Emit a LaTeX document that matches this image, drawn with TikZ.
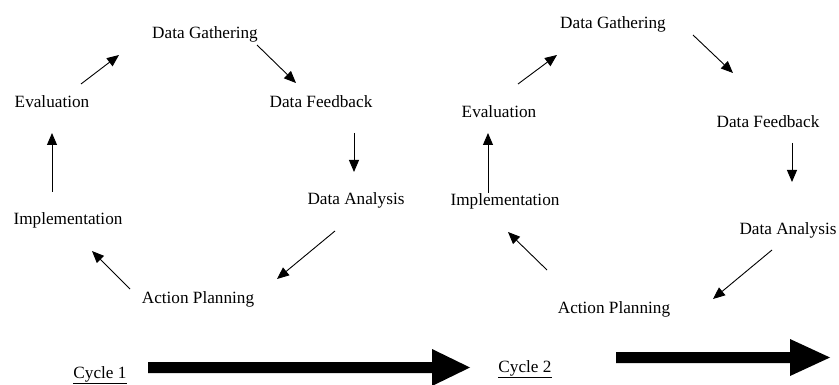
\documentclass[tikz,border=0pt]{standalone}
\usepackage{fontspec}
\setmainfont{Liberation Serif}
\usetikzlibrary{arrows.meta}
\begin{document}
\begin{tikzpicture}[x=1pt,y=-1pt,
  lbl/.style={anchor=base,inner sep=0pt,font=\fontsize{17.2}{20}\selectfont},
  conn/.style={line width=0.9pt,-{Triangle[length=12pt,width=10pt]}},
  bigarrow/.style={fill=black}]
\useasboundingbox (0,0) rectangle (839,385);
% Cycle 1 labels
\node[lbl] (dg1) at (205,39) {Data Gathering};
\node[lbl] (ev1) at (52,108) {Evaluation};
\node[lbl] (df1) at (321,108) {Data Feedback};
\node[lbl] (da1) at (356,205) {Data Analysis};
\node[lbl] (im1) at (68,225) {Implementation};
\node[lbl] (ap1) at (198,303) {Action Planning};
\node[lbl] (cy1) at (100,378) {\underline{Cycle 1}};
% Cycle 2 labels
\node[lbl] (dg2) at (613,29) {Data Gathering};
\node[lbl] (ev2) at (499,118) {Evaluation};
\node[lbl] (df2) at (768,128) {Data Feedback};
\node[lbl] (im2) at (505,206) {Implementation};
\node[lbl] (da2) at (788,235) {Data Analysis};
\node[lbl] (ap2) at (614,313) {Action Planning};
\node[lbl] (cy2) at (525,372) {\underline{Cycle 2}};
% connector end points, cycle 1
\coordinate (a1s) at (81,84);   \coordinate (a1e) at (119,55);
\coordinate (a2s) at (257,45);  \coordinate (a2e) at (296,83);
\coordinate (a3s) at (354,133); \coordinate (a3e) at (354,172);
\coordinate (a4s) at (335,231); \coordinate (a4e) at (277,279);
\coordinate (a5s) at (130,289); \coordinate (a5e) at (92,251);
\coordinate (a6s) at (52,192);  \coordinate (a6e) at (52,133);
% connector end points, cycle 2
\coordinate (b1s) at (518,84);  \coordinate (b1e) at (557,55);
\coordinate (b2s) at (693,35);  \coordinate (b2e) at (733,73);
\coordinate (b3s) at (792,143); \coordinate (b3e) at (792,182);
\coordinate (b4s) at (772,250); \coordinate (b4e) at (713,299);
\coordinate (b5s) at (547,270); \coordinate (b5e) at (508,232);
\coordinate (b6s) at (488,193); \coordinate (b6e) at (488,133);
\foreach \n in {a1,a2,a3,a4,a5,a6,b1,b2,b3,b4,b5,b6}
  \draw[conn] (\n s) -- (\n e);
% big arrows
\fill[bigarrow] (148,362) -- (432,362) -- (432,349) -- (470,367.5) -- (432,386) -- (432,373) -- (148,373) -- cycle;
\fill[bigarrow] (616,352) -- (790,352) -- (790,339) -- (830,357.5) -- (790,376) -- (790,363) -- (616,363) -- cycle;
\end{tikzpicture}
\end{document}
